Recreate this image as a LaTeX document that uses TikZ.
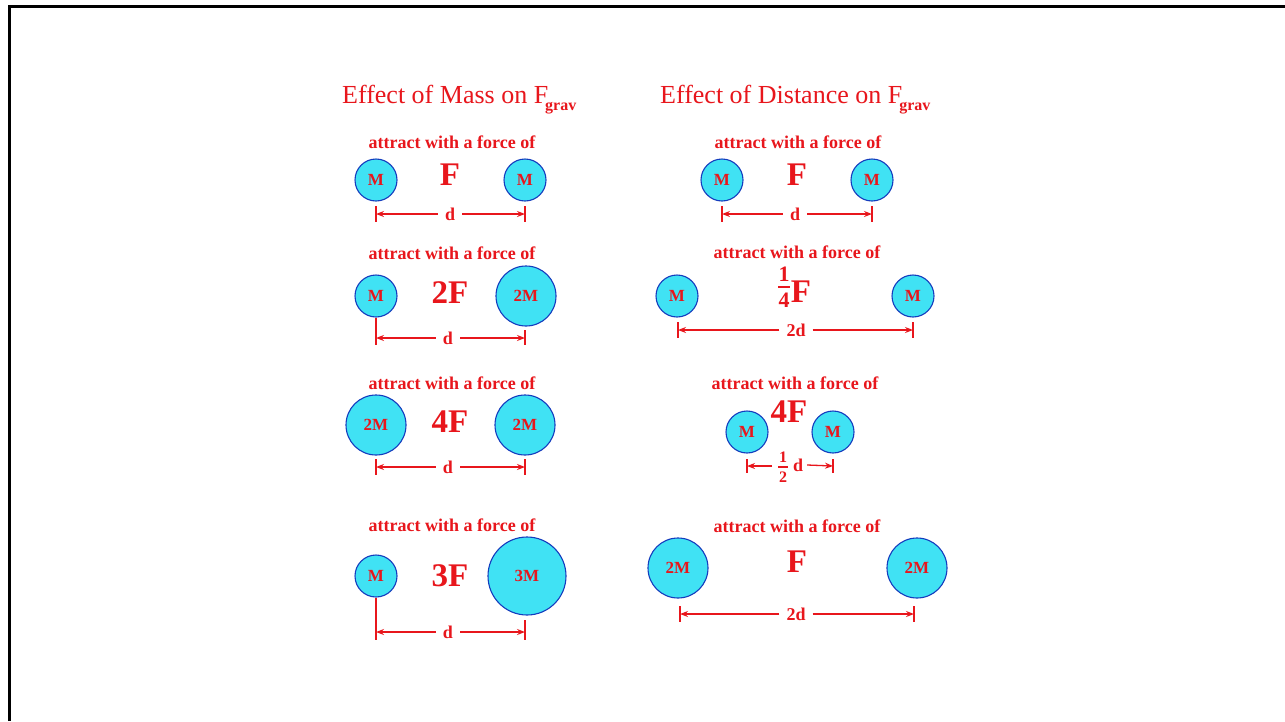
\documentclass[tikz,border=0pt]{standalone}
\usepackage{fontspec}
\setmainfont{Liberation Serif}
\usetikzlibrary{arrows.meta,calc}

\definecolor{txtred}{RGB}{232,22,28}
\definecolor{ballfill}{RGB}{64,226,244}
\definecolor{ballrim}{RGB}{20,60,190}

\tikzset{
  ball/.style={circle, inner sep=0pt, fill=ballfill, draw=ballrim, line width=1.1pt,
    text=txtred, font=\fontsize{17}{17}\selectfont\bfseries},
  mball/.style={ball, minimum size=42},
  twoball/.style={ball, minimum size=60},
  threeball/.style={ball, minimum size=78},
  heading/.style={text=txtred, anchor=west, inner sep=0pt, font=\fontsize{26}{26}\selectfont},
  caption/.style={text=txtred, inner sep=0pt, font=\fontsize{18}{18}\selectfont\bfseries},
  force/.style={text=txtred, inner sep=0pt, font=\fontsize{33}{33}\selectfont\bfseries},
  fracdigit/.style={text=txtred, inner sep=0pt, font=\fontsize{22}{22}\selectfont\bfseries},
  smalldigit/.style={text=txtred, inner sep=0pt, font=\fontsize{16}{16}\selectfont\bfseries},
  fracbar/.style={draw=txtred, line width=1.2pt},
  dimlab/.style={text=txtred, inner ysep=0pt, inner xsep=7pt, font=\fontsize{18}{18}\selectfont\bfseries},
  dimline/.style={draw=txtred, line width=1.3pt, -{Stealth[length=8pt,width=6pt]}},
  tick/.style={draw=txtred, line width=1.3pt},
  frame/.style={draw=black, line width=3pt}
}

\newcommand{\gsub}{\kern-3pt\raisebox{-7pt}{\fontsize{16}{16}\selectfont\bfseries grav}}

\begin{document}
\begin{tikzpicture}[x=1pt,y=-1pt]
  \useasboundingbox (0,0) rectangle (1285,721);
  \fill[white] (0,0) rectangle (1285,721);

  % outer frame (top and left edges)
  \coordinate (fa) at (9,721);
  \coordinate (fb) at (9,6);
  \coordinate (fc) at (1285,6);
  \draw[frame] (fa) -- (fb) -- (fc);

  % ---------------- headings ----------------
  \node[heading] (hm) at (342,100) {Effect of Mass on F\gsub};
  \node[heading] (hd) at (660,100) {Effect of Distance on F\gsub};

  % ================= Effect of mass =================
  % row 1: M, M -> F
  \node[caption] (ca1) at (452,142) {attract with a force of};
  \node[mball] (a1l) at (376,180) {M};
  \node[mball] (a1r) at (525,180) {M};
  \node[force] (fa1) at (450,175) {F};
  \node[dimlab] (da1) at (450,214) {d};
  \coordinate (da1l) at (376,214);
  \coordinate (da1r) at (525,214);
  \draw[dimline] (da1.west) -- (da1l);
  \draw[dimline] (da1.east) -- (da1r);
  \draw[tick] ([yshift=8pt]da1l) -- ([yshift=-8pt]da1l);
  \draw[tick] ([yshift=8pt]da1r) -- ([yshift=-8pt]da1r);

  % row 2: M, 2M -> 2F
  \node[caption] (ca2) at (452,253) {attract with a force of};
  \node[mball] (a2l) at (376,296) {M};
  \node[twoball] (a2r) at (526,296) {2M};
  \node[force] (fa2) at (450,293) {2F};
  \node[dimlab] (da2) at (448,338) {d};
  \coordinate (da2l) at (376,338);
  \coordinate (da2r) at (525,338);
  \draw[dimline] (da2.west) -- (da2l);
  \draw[dimline] (da2.east) -- (da2r);
  \draw[tick] (a2l.south) -- ([yshift=-7pt]da2l);
  \draw[tick] ([yshift=8pt]da2r) -- ([yshift=-7pt]da2r);

  % row 3: 2M, 2M -> 4F
  \node[caption] (ca3) at (452,383) {attract with a force of};
  \node[twoball] (a3l) at (376,425) {2M};
  \node[twoball] (a3r) at (525,425) {2M};
  \node[force] (fa3) at (450,422) {4F};
  \node[dimlab] (da3) at (448,467) {d};
  \coordinate (da3l) at (376,467);
  \coordinate (da3r) at (525,467);
  \draw[dimline] (da3.west) -- (da3l);
  \draw[dimline] (da3.east) -- (da3r);
  \draw[tick] ([yshift=8pt]da3l) -- ([yshift=-8pt]da3l);
  \draw[tick] ([yshift=8pt]da3r) -- ([yshift=-8pt]da3r);

  % row 4: M, 3M -> 3F
  \node[caption] (ca4) at (452,525) {attract with a force of};
  \node[mball] (a4l) at (376,576) {M};
  \node[threeball] (a4r) at (527,576) {3M};
  \node[force] (fa4) at (450,576) {3F};
  \node[dimlab] (da4) at (448,632) {d};
  \coordinate (da4l) at (376,632);
  \coordinate (da4r) at (525,632);
  \draw[dimline] (da4.west) -- (da4l);
  \draw[dimline] (da4.east) -- (da4r);
  \draw[tick] (a4l.south) -- ([yshift=-8pt]da4l);
  \draw[tick] ([yshift=12pt]da4r) -- ([yshift=-8pt]da4r);

  % ================= Effect of distance =================
  % row 1: d -> F
  \node[caption] (cb1) at (798,142) {attract with a force of};
  \node[mball] (b1l) at (722,180) {M};
  \node[mball] (b1r) at (872,180) {M};
  \node[force] (fb1) at (797,175) {F};
  \node[dimlab] (db1) at (795,214) {d};
  \coordinate (db1l) at (722,214);
  \coordinate (db1r) at (872,214);
  \draw[dimline] (db1.west) -- (db1l);
  \draw[dimline] (db1.east) -- (db1r);
  \draw[tick] ([yshift=8pt]db1l) -- ([yshift=-8pt]db1l);
  \draw[tick] ([yshift=8pt]db1r) -- ([yshift=-8pt]db1r);

  % row 2: 2d -> F/4
  \node[caption] (cb2) at (797,252) {attract with a force of};
  \node[mball] (b2l) at (677,296) {M};
  \node[mball] (b2r) at (913,296) {M};
  \node[fracdigit] (q1) at (784,274) {1};
  \node[fracdigit] (q4) at (784,300) {4};
  \coordinate (qb) at ($(q1.south)!0.5!(q4.north)$);
  \draw[fracbar] ([xshift=-6pt]qb) -- ([xshift=6pt]qb);
  \node[force] (fb2) at (801,292) {F};
  \node[dimlab] (db2) at (796,330) {2d};
  \coordinate (db2l) at (678,330);
  \coordinate (db2r) at (913,330);
  \draw[dimline] (db2.west) -- (db2l);
  \draw[dimline] (db2.east) -- (db2r);
  \draw[tick] ([yshift=8pt]db2l) -- ([yshift=-8pt]db2l);
  \draw[tick] ([yshift=8pt]db2r) -- ([yshift=-8pt]db2r);

  % row 3: d/2 -> 4F
  \node[caption] (cb3) at (795,383) {attract with a force of};
  \node[mball] (b3l) at (747,432) {M};
  \node[mball] (b3r) at (833,432) {M};
  \node[force] (fb3) at (789,412) {4F};
  \node[smalldigit] (h1) at (783,457) {1};
  \node[smalldigit] (h2) at (783,477) {2};
  \coordinate (hb) at ($(h1.south)!0.5!(h2.north)$);
  \draw[fracbar] ([xshift=-5pt]hb) -- ([xshift=5pt]hb);
  \node[dimlab, inner xsep=4pt] (db3) at (798,465) {d};
  \coordinate (db3l) at (747,466);
  \coordinate (db3r) at (833,466);
  \coordinate (db3m) at (772,466);
  \draw[dimline] (db3m) -- (db3l);
  \draw[dimline] (db3.east) -- (db3r);
  \draw[tick] ([yshift=7pt]db3l) -- ([yshift=-7pt]db3l);
  \draw[tick] ([yshift=7pt]db3r) -- ([yshift=-7pt]db3r);

  % row 4: 2M, 2M at 2d -> F
  \node[caption] (cb4) at (797,526) {attract with a force of};
  \node[twoball] (b4l) at (678,568) {2M};
  \node[twoball] (b4r) at (917,568) {2M};
  \node[force] (fb4) at (797,562) {F};
  \node[dimlab] (db4) at (796,614) {2d};
  \coordinate (db4l) at (680,614);
  \coordinate (db4r) at (914,614);
  \draw[dimline] (db4.west) -- (db4l);
  \draw[dimline] (db4.east) -- (db4r);
  \draw[tick] ([yshift=8pt]db4l) -- ([yshift=-8pt]db4l);
  \draw[tick] ([yshift=8pt]db4r) -- ([yshift=-8pt]db4r);
\end{tikzpicture}
\end{document}
